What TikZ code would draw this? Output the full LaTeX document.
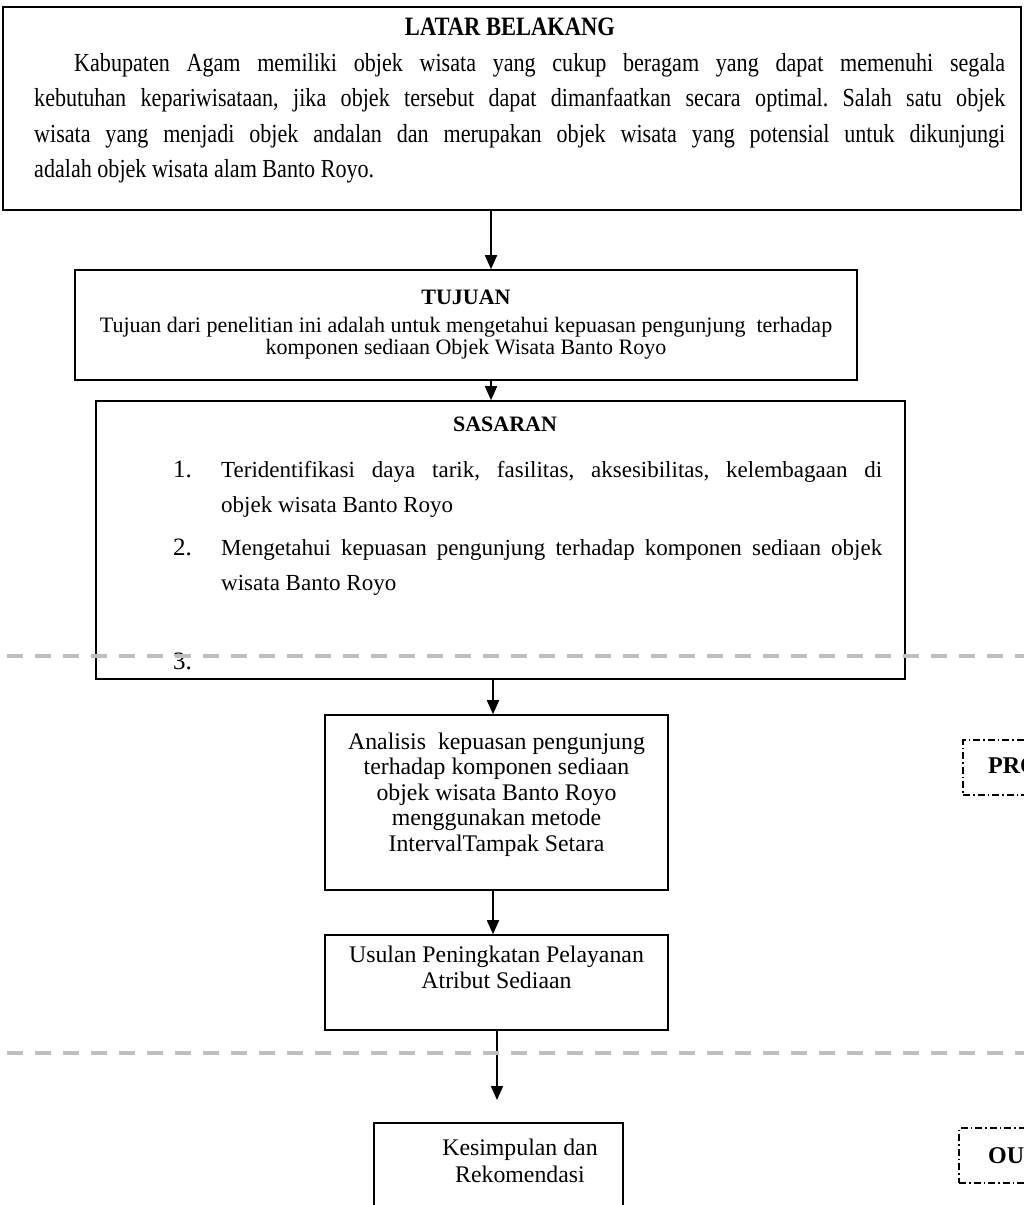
\documentclass[tikz,border=0pt]{standalone}
\usepackage{fontspec}
\setmainfont{Liberation Serif}
\newfontfamily\condfont[FakeStretch=0.85]{Liberation Serif}
\usetikzlibrary{arrows.meta}
\tikzset{
  box/.style={draw, line width=1.6pt, inner sep=0pt},
  arr/.style={-{Triangle[length=14pt,width=12pt]}, line width=1.7pt},
  sepline/.style={draw=black!25, line width=3.3pt, dash pattern=on 16pt off 12pt},
  tagbox/.style={draw, line width=1.2pt, dash pattern=on 7pt off 3pt on 1.5pt off 3pt, inner sep=0pt},
  txt/.style={inner sep=0pt, anchor=base},
  body/.style={font=\fontsize{23.8}{26}\selectfont, align=center},
}
\begin{document}
\frenchspacing
\begin{tikzpicture}[x=1pt,y=-1pt]
\useasboundingbox (0,0) rectangle (1024,1205);
\clip (0,0) rectangle (1024,1205);
% boxes
\node[box, minimum width=1018pt, minimum height=203pt] (lb) at (512,108.5) {};
\node[box, minimum width=782pt, minimum height=110pt] (tuj) at (466,325) {};
\node[box, minimum width=809pt, minimum height=278pt] (sas) at (500.5,540) {};
\node[box, minimum width=343pt, minimum height=175pt] (ana) at (496.5,802.5) {};
\node[box, minimum width=343pt, minimum height=95pt] (usu) at (496.5,982.5) {};
\node[box, minimum width=249pt, minimum height=107pt] (kes) at (498.5,1176.5) {};
\node[tagbox, minimum width=97pt, minimum height=55pt] (pro) at (1011.5,767.5) {};
\node[tagbox, minimum width=100pt, minimum height=55pt] (out) at (1009,1155.5) {};
% texts
\node[txt, font=\condfont\bfseries\fontsize{26.5}{28}\selectfont] (lbt) at (510,35) {LATAR BELAKANG};
\node[txt, anchor=base west, text width=971pt, align=justify,
      font=\condfont\fontsize{26}{35.5}\selectfont] (lbp) at (34,71)
 {\hspace*{40pt}Kabupaten Agam memiliki objek wisata yang cukup beragam yang dapat memenuhi segala\linebreak
  kebutuhan kepariwisataan, jika objek tersebut dapat dimanfaatkan secara optimal. Salah satu objek\linebreak
  wisata yang menjadi objek andalan dan merupakan objek wisata yang potensial untuk dikunjungi\linebreak
  adalah objek wisata alam Banto Royo.};
\node[txt, font=\bfseries\fontsize{22}{25}\selectfont] (tujt) at (466,304) {TUJUAN};
\node[txt, font=\fontsize{22}{21.5}\selectfont, align=center] (tujb) at (466,354)
 {Tujuan dari penelitian ini adalah untuk mengetahui kepuasan pengunjung~ terhadap\\
  komponen sediaan Objek Wisata Banto Royo};
\node[txt, font=\bfseries\fontsize{22}{25}\selectfont] (sast) at (505,431) {SASARAN};
\node[txt, anchor=base west, font=\fontsize{25}{28}\selectfont] (n1) at (173,477) {1.};
\node[txt, anchor=base west, font=\fontsize{25}{28}\selectfont] (n2) at (173,555) {2.};
\node[txt, anchor=base west, font=\fontsize{25}{28}\selectfont] (n3) at (173,669) {3.};
\node[txt, anchor=base west, text width=661pt, align=justify,
      font=\fontsize{23}{35}\selectfont] (i1) at (221,477)
 {Teridentifikasi daya tarik, fasilitas, aksesibilitas, kelembagaan di\linebreak
  objek wisata Banto Royo};
\node[txt, anchor=base west, text width=661pt, align=justify,
      font=\fontsize{23}{35}\selectfont] (i2) at (221,555)
 {Mengetahui kepuasan pengunjung terhadap komponen sediaan objek\linebreak
  wisata Banto Royo};
\node[txt, body, font=\fontsize{23.8}{25.5}\selectfont] (anat) at (496.5,851)
 {Analisis~ kepuasan pengunjung\\ terhadap komponen sediaan\\ objek wisata Banto Royo\\
  menggunakan metode\\ IntervalTampak Setara};
\node[txt, body] (usut) at (496.5,988) {Usulan Peningkatan Pelayanan\\ Atribut Sediaan};
\node[txt, body, font=\fontsize{23.8}{27}\selectfont] (kest) at (520,1182) {Kesimpulan dan\\ Rekomendasi};
\node[txt, anchor=base west, font=\bfseries\fontsize{24}{26}\selectfont] (prot) at (988,773) {PRO};
\node[txt, anchor=base west, font=\bfseries\fontsize{24}{26}\selectfont] (outt) at (988,1163) {OUT};
% arrows
\coordinate (a1) at (491,0);
\coordinate (a2) at (493,0);
\draw[arr] (lb.south -| a1) -- (tuj.north -| a1);
\draw[arr] (tuj.south -| a1) -- (sas.north -| a1);
\draw[arr] (sas.south -| a2) -- (ana.north -| a2);
\draw[arr] (ana.south -| a2) -- (usu.north -| a2);
\coordinate (a3) at (497,1100);
\draw[arr] (usu.south -| a3) -- (a3);
% separators
\coordinate (s1l) at (7,656); \coordinate (s1r) at (1024,656);
\coordinate (s2l) at (7,1053); \coordinate (s2r) at (1024,1053);
\draw[sepline] (s1l) -- (s1r);
\draw[sepline] (s2l) -- (s2r);
\end{tikzpicture}
\end{document}
